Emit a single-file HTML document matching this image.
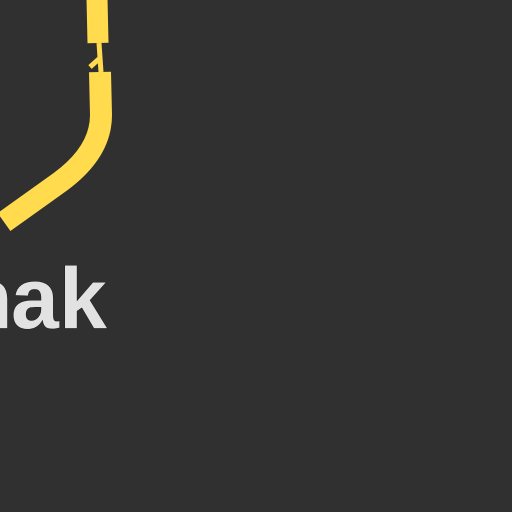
<!DOCTYPE html>
<html><head><meta charset="utf-8"><style>
html,body{margin:0;padding:0;background:#303030;}
svg{display:block}
</style></head><body>
<svg width="512" height="512" viewBox="0 0 512 512">
<rect width="512" height="512" fill="#303030"/>
<g fill="none" stroke="#ffdb4d" stroke-linecap="butt" stroke-linejoin="round">
<path d="M97,-2 L98,43" stroke-width="21"/>
<path d="M99,43 L101,72" stroke-width="5"/>
<path d="M100,58 L90,67" stroke-width="5"/>
<path d="M100,72 L101,115 Q101,152 60,182 L4,222" stroke-width="22"/>
</g>
<text y="328" font-family="Liberation Sans, sans-serif" font-weight="bold" font-size="86" fill="#e2e2e2" stroke="#1e1e1e" stroke-width="1" paint-order="stroke"><tspan x="-40">h</tspan><tspan x="11">a</tspan><tspan x="59">k</tspan></text>
</svg>
</body></html>
